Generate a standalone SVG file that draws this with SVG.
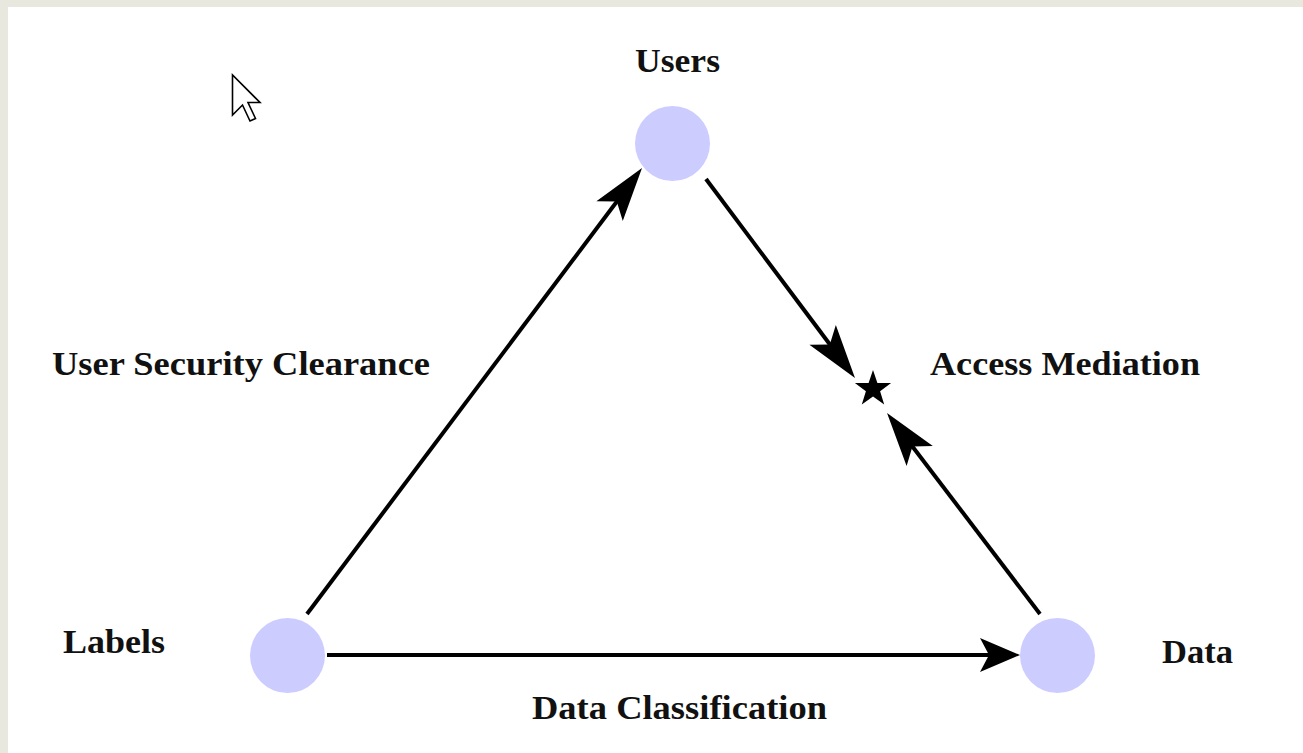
<svg xmlns="http://www.w3.org/2000/svg" width="1303" height="753" viewBox="0 0 1303 753">
  <style>
    .node { fill: #CCCCFF; }
    .label { font-family: "Liberation Serif", "Times New Roman", serif; font-weight: bold; font-size: 33px; fill: #111111; }
    .edge { stroke: #000000; stroke-width: 4; fill: none; }
  </style>
  <defs>
    <!-- long barbed head for the slanted connectors -->
    <marker id="headLong" markerUnits="userSpaceOnUse" markerWidth="60" markerHeight="40" viewBox="-56 -20 60 40" refX="-14" refY="0" orient="auto" overflow="visible">
      <path d="M0,0 L-54,-16.5 L-42,0 L-54,16.5 Z" fill="#000"/>
    </marker>
    <!-- shorter head for the bottom connector -->
    <marker id="headShort" markerUnits="userSpaceOnUse" markerWidth="50" markerHeight="40" viewBox="-44 -20 50 40" refX="-30" refY="0" orient="auto" overflow="visible">
      <path d="M0,0 L-40,-17 L-31,0 L-40,17 Z" fill="#000"/>
    </marker>
  </defs>

  <!-- window backdrop -->
  <rect x="0" y="0" width="1303" height="753" fill="#E9E8DE"/>
  <rect x="8" y="7" width="1295" height="746" fill="#FFFFFF"/>

  <!-- mouse pointer -->
  <path d="M232.5,75 L232.5,115 L242.5,105 L250,121 L255.5,118.5 L248,102.5 L260,102.5 Z" fill="#FFFFFF" stroke="#000000" stroke-width="1.6" stroke-linejoin="miter"/>

  <g id="connectors">
    <line class="edge" x1="307" y1="614" x2="633.6" y2="179.2" marker-end="url(#headLong)"/>
    <line class="edge" x1="706" y1="179" x2="846.6" y2="366.8" marker-end="url(#headLong)"/>
    <line class="edge" x1="1040" y1="614" x2="895.5" y2="424.2" marker-end="url(#headLong)"/>
    <line class="edge" x1="327" y1="655" x2="990" y2="655" marker-end="url(#headShort)"/>
  </g>

  <g id="users">
    <circle class="node" cx="672.5" cy="143.5" r="37.5"/>
    <text class="label" x="635" y="72" textLength="85" lengthAdjust="spacingAndGlyphs">Users</text>
  </g>

  <g id="labels">
    <circle class="node" cx="287.5" cy="655.5" r="37.5"/>
    <text class="label" x="63" y="653" textLength="102" lengthAdjust="spacingAndGlyphs">Labels</text>
  </g>

  <g id="data">
    <circle class="node" cx="1057.5" cy="655.5" r="37.5"/>
    <text class="label" x="1162" y="663" textLength="71" lengthAdjust="spacingAndGlyphs">Data</text>
  </g>

  <g id="access-mediation">
    <polygon points="873,370 877.4,382.9 891.1,383.1 880.1,391.3 884.2,404.4 873,396.5 861.8,404.4 865.9,391.3 854.9,383.1 868.6,382.9" fill="#000000"/>
    <text class="label" x="930" y="375" textLength="270" lengthAdjust="spacingAndGlyphs">Access Mediation</text>
  </g>

  <g id="edge-labels">
    <text class="label" x="52" y="375" textLength="378" lengthAdjust="spacingAndGlyphs">User Security Clearance</text>
    <text class="label" x="532" y="719" textLength="295" lengthAdjust="spacingAndGlyphs">Data Classification</text>
  </g>
</svg>
